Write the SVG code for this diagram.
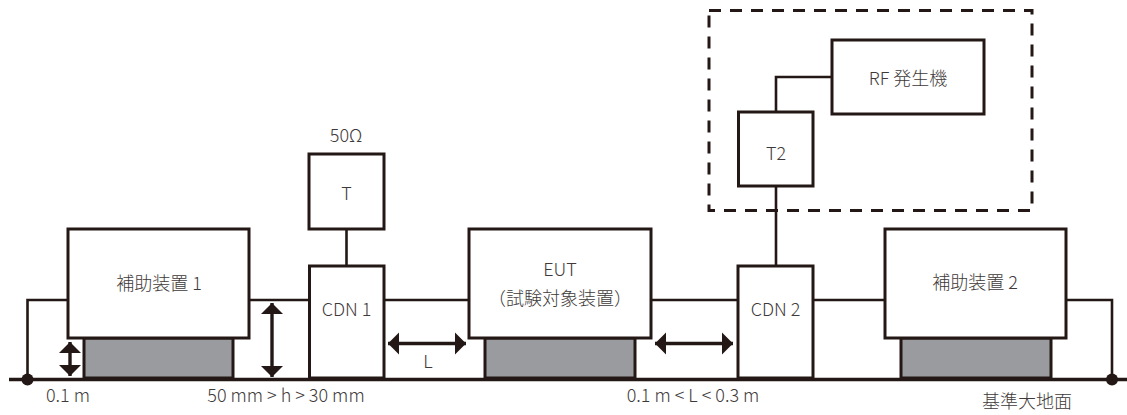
<svg xmlns="http://www.w3.org/2000/svg" width="1127" height="415" viewBox="0 0 1127 415">
<style>
.b{fill:#fff;stroke:#231815;stroke-width:3}
.s{fill:#9a9b9e;stroke:#231815;stroke-width:3}
.w{fill:none;stroke:#231815;stroke-width:2.6}
.g{fill:none;stroke:#231815;stroke-width:3.4}
.a{fill:none;stroke:#231815;stroke-width:3.4;marker-start:url(#h);marker-end:url(#h)}
.d{fill:none;stroke:#231815;stroke-width:3;stroke-dasharray:12 9}
text{font-family:"Noto Sans CJK JP","Noto Sans",sans-serif;font-size:18px;font-weight:300;fill:#3e3a39;text-anchor:middle}
</style>
<defs>
<marker id="h" markerUnits="userSpaceOnUse" markerWidth="12" markerHeight="24" refX="11" refY="11" orient="auto-start-reverse" viewBox="0 0 12 22"><path d="M0 0L11 11L0 22Z" fill="#231815"/></marker>
</defs>
<rect width="1127" height="415" fill="#fff"/>
<g id="connectors">
<path class="w" d="M27.500 379V300H68M249 300H309M346.500 229V266M384 300H469M651 300H738M813 300H885M1066 300H1112V379"/>
<path class="w" d="M776 266V186M776 112V77H832"/>
<path class="g" d="M9 379.500H1127"/>
<circle cx="27.500" cy="379.500" r="6" fill="#231815"/>
<circle cx="1112" cy="379.500" r="6" fill="#231815"/>
<path class="a" d="M70 342V376"/>
<path class="a" d="M272 303V377"/>
<path class="a" d="M388 343.500H466"/>
<path class="a" d="M655 343.500H733"/>
</g>
<rect id="boundary" class="d" x="709" y="10.500" width="323" height="200"/>
<g id="aux1"><rect class="s" x="84" y="338" width="149" height="40"/><rect class="b" x="68" y="229" width="181" height="109"/><text x="159" y="290">補助装置 1</text></g>
<g id="term"><text x="346" y="142">50Ω</text><rect class="b" x="309" y="154" width="75" height="75"/><text x="346.500" y="200">T</text></g>
<g id="cdn1"><rect class="b" x="309.500" y="266" width="74.500" height="112"/><text x="346.500" y="316">CDN 1</text></g>
<g id="eut"><rect class="s" x="485" y="338" width="150" height="40"/><rect class="b" x="469" y="229" width="182" height="109"/><text x="560" y="276">EUT</text><text x="560" y="305">（試験対象装置）</text></g>
<g id="cdn2"><rect class="b" x="738" y="266" width="75" height="112"/><text x="775.500" y="316">CDN 2</text></g>
<g id="aux2"><rect class="s" x="901" y="338" width="150" height="40"/><rect class="b" x="885" y="229" width="181" height="109"/><text x="975" y="289">補助装置 2</text></g>
<g id="t2"><rect class="b" x="738.500" y="112" width="74.500" height="74"/><text x="776" y="160">T2</text></g>
<g id="rf"><rect class="b" x="832" y="40" width="152" height="74"/><text x="908" y="85">RF 発生機</text></g>
<g id="labels"><text x="68" y="402">0.1 m</text><text x="286" y="402">50 mm &gt; h &gt; 30 mm</text><text x="428" y="368">L</text><text x="693" y="402">0.1 m &lt; L &lt; 0.3 m</text><text x="1027" y="408">基準大地面</text></g>
</svg>
